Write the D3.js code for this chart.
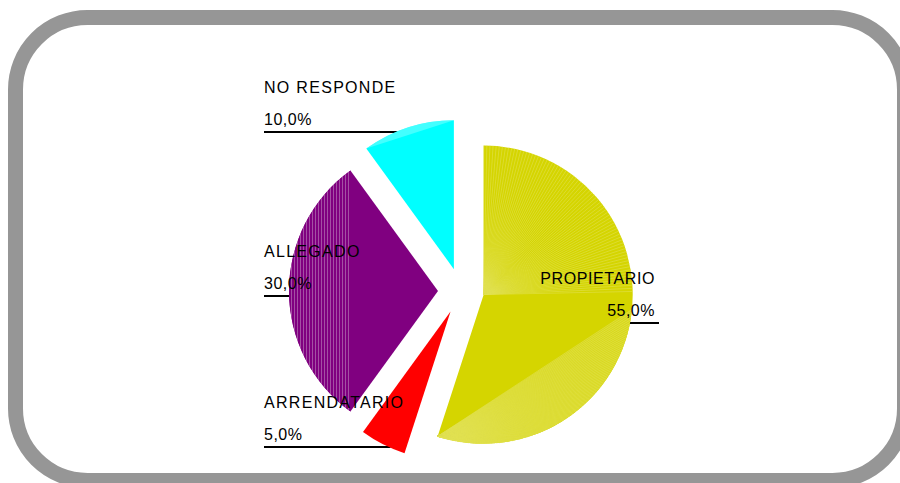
<!DOCTYPE html>
<html>
<head>
<meta charset="utf-8">
<script src="https://cdn.jsdelivr.net/npm/d3@7"></script>
<style>
  body { margin: 0; background: #fff; }
  text { font-family: "Liberation Sans", Arial, sans-serif; font-size: 16px; fill: #000; }
</style>
</head>
<body>
<div id="plot"></div>
<script>
// data
const categories = ["PROPIETARIO", "ARRENDATARIO", "ALLEGADO", "NO RESPONDE"];
const values = [55, 5, 30, 10];
const valueLabels = ["55,0%", "5,0%", "30,0%", "10,0%"];
const colors = ["#d5d500", "#ff0000", "#800080", "#00ffff"];
const lightColors = ["#e3e355", "#ff0000", "#a450a4", "#70ffff"];

// layout
const width = 900;
const height = 483;
const cx = 461, cy = 291;
const radius = 149;
const explode = 23;
// label name baselines (value label 32px lower, leader line 7px below that)
const labelY = [284, 408, 257, 93];
const leftX = 264;
const rightX = 655;

const svg = d3.select("div#plot")
    .append("svg")
    .attr("width", width)
    .attr("height", height);

// frame
svg.append("rect")
    .attr("x", 15.5)
    .attr("y", 17.5)
    .attr("width", 889)
    .attr("height", 463)
    .attr("rx", 72)
    .attr("fill", "#fff")
    .attr("stroke", "#969696")
    .attr("stroke-width", 15);

const defs = svg.append("defs");
const stripes = defs.append("pattern")
    .attr("id", "purple-stripes")
    .attr("patternUnits", "userSpaceOnUse")
    .attr("width", 3)
    .attr("height", 10);
stripes.append("rect").attr("width", 3).attr("height", 10).attr("fill", colors[2]);
stripes.append("rect").attr("width", 1).attr("height", 10).attr("fill", lightColors[2]);

const pie = d3.pie().sort(null).value(d => d)(values);

const arc = d3.arc().innerRadius(0).outerRadius(radius);

// each slice pushed out along its middle angle
pie.forEach(d => {
    const mid = (d.startAngle + d.endAngle) / 2;
    d.vx = cx + explode * Math.sin(mid);
    d.vy = cy - explode * Math.cos(mid);
});

function pt(d, a, r) {
    return [d.vx + r * Math.sin(a), d.vy - r * Math.cos(a)];
}

// circular segment between chord and arc
function segment(d, a0, a1) {
    const p = d3.path();
    const s = pt(d, a0, radius);
    p.moveTo(s[0], s[1]);
    p.arc(d.vx, d.vy, radius, a0 - Math.PI / 2, a1 - Math.PI / 2, false);
    p.closePath();
    return p.toString();
}

// leader lines, drawn under the pie
const lines = svg.append("g");
pie.forEach((d, i) => {
    const y = labelY[i] + 32 + 7;
    const dx = Math.sqrt(Math.max(0, radius * radius - (y - d.vy) * (y - d.vy)));
    const right = i === 0;
    lines.append("line")
        .attr("x1", right ? d.vx + dx - 2 : leftX)
        .attr("x2", right ? rightX + 4 : d.vx - dx + 2)
        .attr("y1", y)
        .attr("y2", y)
        .attr("stroke", "#000")
        .attr("stroke-width", 2);
});

const slices = svg.append("g");

pie.forEach((d, i) => {
    const g = slices.append("g");
    g.append("path")
        .attr("transform", `translate(${d.vx},${d.vy})`)
        .attr("d", arc(d))
        .attr("fill", colors[i]);

    if (i === 0) {
        // upper quarter: light fan from the tip
        const fan = d3.range(d.startAngle, Math.PI / 2, Math.PI / 150);
        g.selectAll(".fan").data(fan).enter().append("line")
            .attr("x1", d.vx).attr("y1", d.vy)
            .attr("x2", a => pt(d, a, radius)[0])
            .attr("y2", a => pt(d, a, radius)[1])
            .attr("stroke", lightColors[0])
            .attr("stroke-width", 0.7)
            .attr("opacity", 0.8);
        // lower edge: lighter segment with fan from the end point
        const a0 = Math.PI / 2 + 0.1;
        g.append("path")
            .attr("d", segment(d, a0, d.endAngle))
            .attr("fill", "#d9d91c");
        const e = pt(d, d.endAngle, radius);
        const fan2 = d3.range(a0, d.endAngle, Math.PI / 180);
        g.selectAll(".fan2").data(fan2).enter().append("line")
            .attr("x1", e[0]).attr("y1", e[1])
            .attr("x2", a => pt(d, a, radius)[0])
            .attr("y2", a => pt(d, a, radius)[1])
            .attr("stroke", lightColors[0])
            .attr("stroke-width", 0.7)
            .attr("opacity", 0.8);
    } else if (i === 2) {
        g.append("path")
            .attr("d", segment(d, d.startAngle, d.endAngle))
            .attr("fill", "url(#purple-stripes)");
    } else if (i === 3) {
        g.append("path")
            .attr("d", segment(d, d.startAngle, d.endAngle))
            .attr("fill", lightColors[3])
            .attr("opacity", 0.6);
    }
});

// labels over the pie
const labels = svg.append("g");
pie.forEach((d, i) => {
    const right = i === 0;
    const x = right ? rightX : leftX;
    labels.append("text")
        .attr("x", x)
        .attr("y", labelY[i])
        .attr("text-anchor", right ? "end" : "start")
        .style("letter-spacing", right ? "0.6px" : "1.3px")
        .text(categories[i]);
    labels.append("text")
        .attr("x", x)
        .attr("y", labelY[i] + 32)
        .attr("text-anchor", right ? "end" : "start")
        .style("letter-spacing", "0.5px")
        .text(valueLabels[i]);
});
</script>
</body>
</html>
